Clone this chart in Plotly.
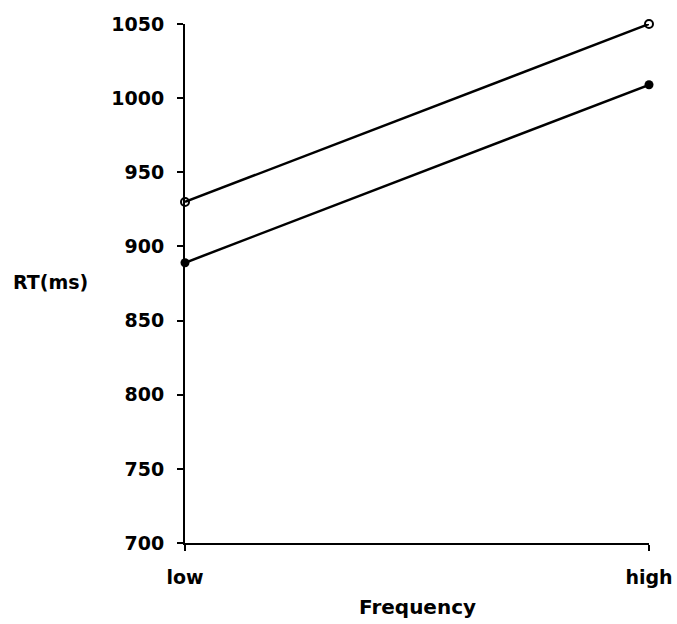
import plotly.graph_objects as go

categories = ["low", "high"]
open_series = [930, 1050]
filled_series = [889, 1009]
y_ticks = [700, 750, 800, 850, 900, 950, 1000, 1050]

FONT = "DejaVu Sans"
fig = go.Figure()
fig.add_trace(go.Scatter(
    x=categories, y=open_series, mode="lines+markers", cliponaxis=False,
    line=dict(color="black", width=2.5),
    marker=dict(symbol="circle-open", size=8, color="black", line=dict(width=2)),
    showlegend=False))
fig.add_trace(go.Scatter(
    x=categories, y=filled_series, mode="lines+markers", cliponaxis=False,
    line=dict(color="black", width=2.5),
    marker=dict(symbol="circle", size=9, color="black"),
    showlegend=False))

tickfont = dict(family=FONT, size=19, color="black", weight="bold")
fig.update_layout(
    width=677, height=624,
    margin=dict(l=185, r=28, t=24, b=81),
    paper_bgcolor="white", plot_bgcolor="white",
    xaxis=dict(type="category", range=[0, 1], showgrid=False, zeroline=False,
               showline=True, linecolor="black", linewidth=2, automargin=False,
               ticks="outside", ticklen=6, tickwidth=2, tickcolor="black",
               tickfont=tickfont, ticklabelstandoff=10),
    yaxis=dict(range=[700, 1050], tickvals=y_ticks, showgrid=False, zeroline=False,
               showline=True, linecolor="black", linewidth=2, automargin=False,
               ticks="outside", ticklen=6, tickwidth=2, tickcolor="black",
               tickfont=tickfont, ticklabelstandoff=9),
    xaxis2=dict(type="category", range=[0, 1], overlaying="x", anchor="y",
                showgrid=False, zeroline=False, showline=False, automargin=False,
                ticks="inside", ticklen=5, tickwidth=2, tickcolor="black",
                showticklabels=False, categoryarray=categories,
                tickvals=categories),
    yaxis2=dict(range=[700, 1050], tickvals=y_ticks, overlaying="y", anchor="x",
                side="left", showgrid=False, zeroline=False, showline=False,
                automargin=False,
                ticks="inside", ticklen=3, tickwidth=2, tickcolor="black",
                showticklabels=False),
    annotations=[
        dict(text="RT(ms)", xref="paper", yref="paper", x=-0.289, y=0.503,
             xanchor="center", yanchor="middle", showarrow=False,
             font=dict(family=FONT, size=19, color="black", weight="bold")),
        dict(text="Frequency", xref="paper", yref="paper", x=0.5, y=0,
             xanchor="center", yanchor="middle", showarrow=False, yshift=-64,
             font=dict(family=FONT, size=20, color="black", weight="bold")),
    ],
)
fig.write_html(
    "out.html",
    config={"displayModeBar": False},
    post_script="document.body.style.margin='0';document.body.style.overflow='hidden';",
)
